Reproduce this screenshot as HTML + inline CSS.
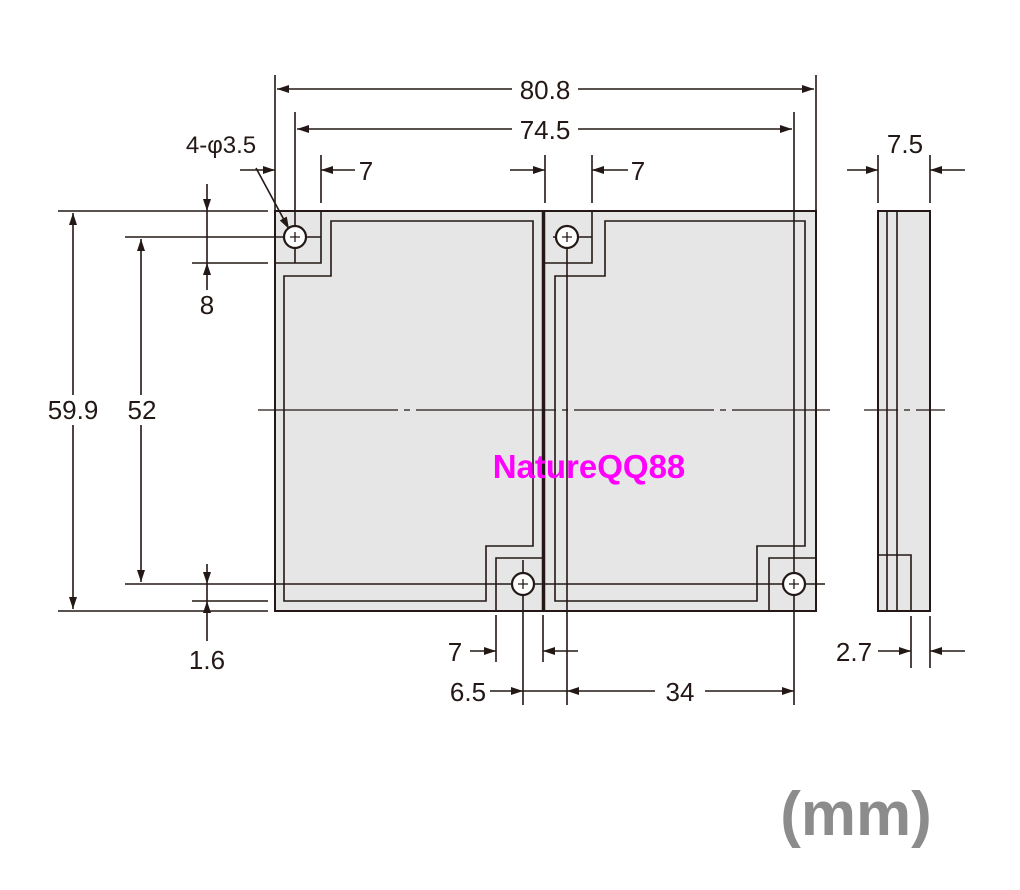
<!DOCTYPE html>
<html><head><meta charset="utf-8"><style>
html,body{margin:0;padding:0;background:#fff;width:1020px;height:890px;overflow:hidden}
svg{display:block}
text{font-family:"Liberation Sans",Arial,sans-serif;fill:#231815}
</style></head><body>
<svg width="1020" height="890" viewBox="0 0 1020 890" xmlns="http://www.w3.org/2000/svg">
<defs>
<marker id="a" viewBox="0 0 12 8" refX="12" refY="4" markerWidth="12" markerHeight="8" markerUnits="userSpaceOnUse" orient="auto-start-reverse"><path d="M0,0 L12,4 L0,8 Z" fill="#231815"/></marker>
</defs>
<g stroke="#231815" stroke-width="1.6" fill="none">
<rect x="275" y="211" width="541" height="400" fill="#e6e6e6" stroke-width="2"/>
<line x1="543.5" y1="211" x2="543.5" y2="611" stroke-width="3.5"/>
<polygon points="284,276 331,276 331,221 533,221 533,546 486,546 486,601 284,601" fill="#e6e6e6"/>
<polygon points="555,276 605,276 605,221 805,221 805,546 757,546 757,601 555,601" fill="#e6e6e6"/>
<polyline points="321,211 321,263 275,263"/>
<polyline points="592,211 592,263 545,263"/>
<polyline points="542,558 496,558 496,611"/>
<polyline points="816,558 769,558 769,611"/>
<line x1="258" y1="410" x2="830" y2="410" stroke-dasharray="140,6,6,6" stroke-width="1.2"/>
<line x1="125" y1="237" x2="321" y2="237"/>
<line x1="553" y1="237" x2="592" y2="237"/>
<line x1="125" y1="584" x2="542" y2="584"/>
<line x1="545" y1="584" x2="825" y2="584"/>
<line x1="295" y1="112" x2="295" y2="263"/>
<line x1="567" y1="225" x2="567" y2="705"/>
<line x1="523" y1="560" x2="523" y2="705"/>
<line x1="794" y1="112" x2="794" y2="705"/>
<g fill="#fff" stroke-width="2.2">
<circle cx="295" cy="237" r="11"/><circle cx="567" cy="237" r="11"/>
<circle cx="523" cy="584" r="11"/><circle cx="794" cy="584" r="11"/>
</g>
<g stroke-width="1.3">
<path d="M290,237h10M295,232v10"/><path d="M562,237h10M567,232v10"/>
<path d="M518,584h10M523,579v10"/><path d="M789,584h10M794,579v10"/>
</g>
<line x1="275" y1="75" x2="275" y2="211"/>
<line x1="816" y1="75" x2="816" y2="211"/>
<line x1="277" y1="89" x2="512" y2="89" marker-start="url(#a)"/>
<line x1="578" y1="89" x2="814" y2="89" marker-end="url(#a)"/>
<line x1="297" y1="129" x2="512" y2="129" marker-start="url(#a)"/>
<line x1="578" y1="129" x2="792" y2="129" marker-end="url(#a)"/>
<line x1="321" y1="155" x2="321" y2="203"/>
<line x1="240" y1="170" x2="275" y2="170" marker-end="url(#a)"/>
<line x1="355" y1="170" x2="321" y2="170" marker-end="url(#a)"/>
<line x1="545" y1="155" x2="545" y2="203"/>
<line x1="592" y1="155" x2="592" y2="203"/>
<line x1="510" y1="170" x2="545" y2="170" marker-end="url(#a)"/>
<line x1="628" y1="170" x2="592" y2="170" marker-end="url(#a)"/>
<line x1="256" y1="168" x2="289" y2="229" marker-end="url(#a)"/>
<line x1="58" y1="211" x2="268" y2="211"/>
<line x1="58" y1="611" x2="268" y2="611"/>
<line x1="73" y1="213" x2="73" y2="395" marker-start="url(#a)"/>
<line x1="73" y1="425" x2="73" y2="609" marker-end="url(#a)"/>
<line x1="141" y1="239" x2="141" y2="395" marker-start="url(#a)"/>
<line x1="141" y1="425" x2="141" y2="582" marker-end="url(#a)"/>
<line x1="192" y1="263" x2="268" y2="263"/>
<line x1="207" y1="184" x2="207" y2="211" marker-end="url(#a)"/>
<line x1="207" y1="290" x2="207" y2="263" marker-end="url(#a)"/>
<line x1="207" y1="211" x2="207" y2="263"/>
<line x1="192" y1="601" x2="268" y2="601"/>
<line x1="207" y1="564" x2="207" y2="584" marker-end="url(#a)"/>
<line x1="207" y1="641" x2="207" y2="601" marker-end="url(#a)"/>
<line x1="207" y1="584" x2="207" y2="601"/>
<line x1="496" y1="615" x2="496" y2="662"/>
<line x1="543" y1="615" x2="543" y2="662"/>
<line x1="470" y1="651" x2="496" y2="651" marker-end="url(#a)"/>
<line x1="578" y1="651" x2="543" y2="651" marker-end="url(#a)"/>
<line x1="490" y1="691" x2="523" y2="691" marker-end="url(#a)"/>
<line x1="523" y1="691" x2="567" y2="691"/>
<line x1="655" y1="691" x2="567" y2="691" marker-end="url(#a)"/>
<line x1="705" y1="691" x2="794" y2="691" marker-end="url(#a)"/>
<rect x="878" y="211" width="52" height="400" fill="#e6e6e6" stroke-width="2"/>
<line x1="887" y1="211" x2="887" y2="611"/>
<line x1="897" y1="211" x2="897" y2="611"/>
<polyline points="878,555 911,555 911,611"/>
<line x1="864" y1="410" x2="945" y2="410" stroke-dasharray="34,6,6,6" stroke-width="1.2"/>
<line x1="878" y1="155" x2="878" y2="203"/>
<line x1="930" y1="155" x2="930" y2="203"/>
<line x1="847" y1="170" x2="878" y2="170" marker-end="url(#a)"/>
<line x1="965" y1="170" x2="930" y2="170" marker-end="url(#a)"/>
<line x1="911" y1="616" x2="911" y2="668"/>
<line x1="930" y1="616" x2="930" y2="668"/>
<line x1="878" y1="651" x2="911" y2="651" marker-end="url(#a)"/>
<line x1="965" y1="651" x2="930" y2="651" marker-end="url(#a)"/>
</g>
<g font-size="26" text-anchor="middle">
<text x="545" y="99">80.8</text>
<text x="545" y="139">74.5</text>
<text x="221" y="153" font-size="24">4-φ3.5</text>
<text x="366" y="180">7</text>
<text x="638" y="180">7</text>
<text x="905" y="153">7.5</text>
<text x="73" y="419">59.9</text>
<text x="142" y="419">52</text>
<text x="207" y="314">8</text>
<text x="207" y="669">1.6</text>
<text x="455" y="661">7</text>
<text x="468" y="701">6.5</text>
<text x="680" y="701">34</text>
<text x="854" y="661">2.7</text>
</g>
<text x="589" y="478" font-size="33" font-weight="bold" text-anchor="middle" style="fill:#ff00ff">NatureQQ88</text>
<text x="856" y="835" font-size="62" font-weight="bold" text-anchor="middle" style="fill:#8c8c8c">(mm)</text>
</svg>
</body></html>
